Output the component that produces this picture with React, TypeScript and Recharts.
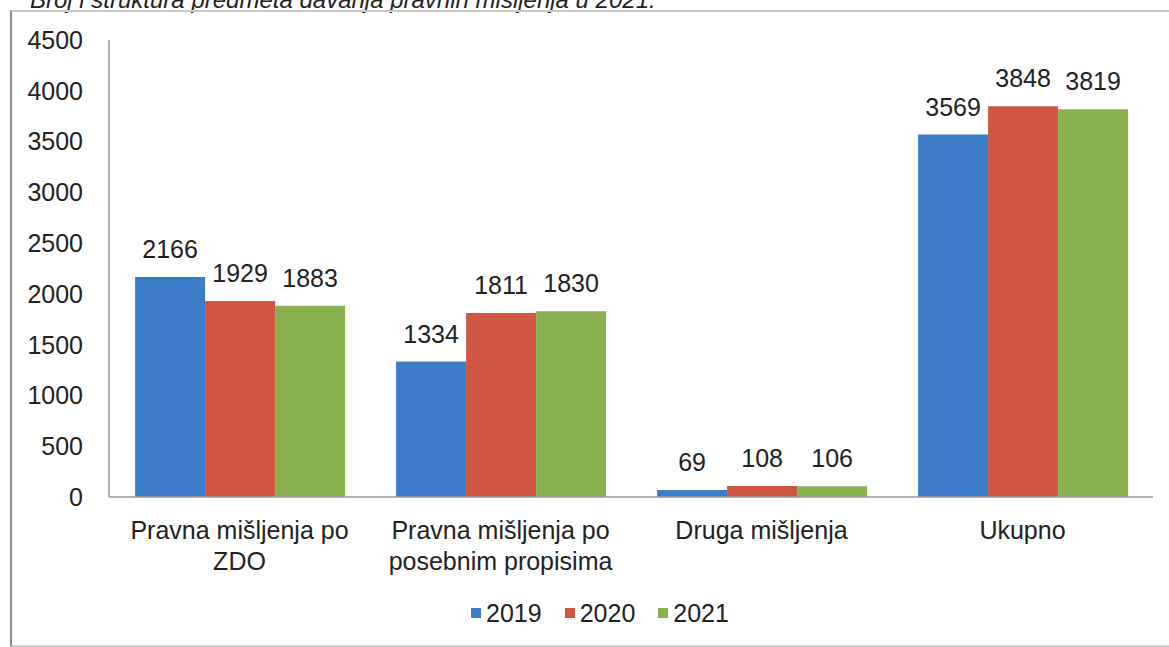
import { BarChart, Bar, XAxis, YAxis, LabelList } from "recharts";

const categories = [
  "Pravna mišljenja po\nZDO",
  "Pravna mišljenja po\nposebnim propisima",
  "Druga mišljenja",
  "Ukupno",
];
const values2019 = [2166, 1334, 69, 3569];
const values2020 = [1929, 1811, 108, 3848];
const values2021 = [1883, 1830, 106, 3819];
const yTicks = [0, 500, 1000, 1500, 2000, 2500, 3000, 3500, 4000, 4500];

const SERIES = [
  { key: "y2019", name: "2019", color: "#3d7cc9" },
  { key: "y2020", name: "2020", color: "#cf5642" },
  { key: "y2021", name: "2021", color: "#89b04e" },
];

const FONT = "'Liberation Sans', Arial, sans-serif";
const TEXT = "#222";

const data = categories.map((c, i) => ({
  name: c,
  y2019: values2019[i],
  y2020: values2020[i],
  y2021: values2021[i],
}));

// eslint-disable-next-line @typescript-eslint/no-explicit-any
function CategoryTick({ x, y, payload }: any) {
  const lines = String(payload.value).split("\n");
  return (
    <text x={x} y={y} textAnchor="middle" fill={TEXT} fontSize={25} fontFamily={FONT}>
      {lines.map((l, i) => (
        <tspan key={i} x={x} y={y + 42 + i * 31}>
          {l}
        </tspan>
      ))}
    </text>
  );
}

export default function App() {
  return (
    <div
      style={{
        position: "absolute",
        left: 0,
        top: 0,
        width: 1169,
        height: 647,
        overflow: "hidden",
        background: "#fff",
        fontFamily: FONT,
      }}
    >
      {/* title is cut off at the top edge in the scan */}
      <div
        style={{
          position: "absolute",
          left: 30,
          top: -12,
          fontSize: 24,
          lineHeight: "24px",
          fontStyle: "italic",
          color: TEXT,
          whiteSpace: "nowrap",
        }}
      >
        Broj i struktura predmeta davanja pravnih mišljenja u 2021.
      </div>
      <div
        style={{
          position: "absolute",
          left: 10,
          top: 10,
          width: 1200,
          height: 633,
          borderTop: "2px solid #c8c8c8",
          borderBottom: "2px solid #d0d0d0",
          borderLeft: "2px solid #8c8c8c",
        }}
      />
      <div style={{ position: "absolute", left: 0, top: 0 }}>
        <BarChart
          width={1169}
          height={647}
          data={data}
          margin={{ top: 40, right: 16, left: 0, bottom: 0 }}
          barCategoryGap="10%"
          barGap={0}
        >
          <XAxis
            dataKey="name"
            height={150}
            tickLine={false}
            tickSize={0}
            tickMargin={0}
            interval={0}
            stroke="#9a9a9a"
            strokeWidth={1.5}
            tick={<CategoryTick />}
          />
          <YAxis
            width={109}
            domain={[0, 4500]}
            ticks={yTicks}
            interval={0}
            tickLine={false}
            tickMargin={20}
            stroke="#9a9a9a"
            strokeWidth={1.5}
            tick={{ fontSize: 25, fill: TEXT, fontFamily: FONT }}
          />
          {SERIES.map((s) => (
            <Bar key={s.key} dataKey={s.key} name={s.name} fill={s.color} isAnimationActive={false}>
              <LabelList
                dataKey={s.key}
                position="top"
                offset={19}
                fill={TEXT}
                fontSize={25}
                fontFamily={FONT}
              />
            </Bar>
          ))}
        </BarChart>
      </div>
      <div
        style={{
          position: "absolute",
          top: 597,
          left: 0,
          width: 1200,
          display: "flex",
          justifyContent: "center",
          gap: 23,
          fontSize: 25,
          color: TEXT,
          lineHeight: "32px",
        }}
      >
        {SERIES.map((s) => (
          <div key={s.key} style={{ display: "flex", alignItems: "center" }}>
            <span
              style={{ display: "inline-block", width: 10, height: 10, background: s.color, marginRight: 5 }}
            />
            {s.name}
          </div>
        ))}
      </div>
    </div>
  );
}
